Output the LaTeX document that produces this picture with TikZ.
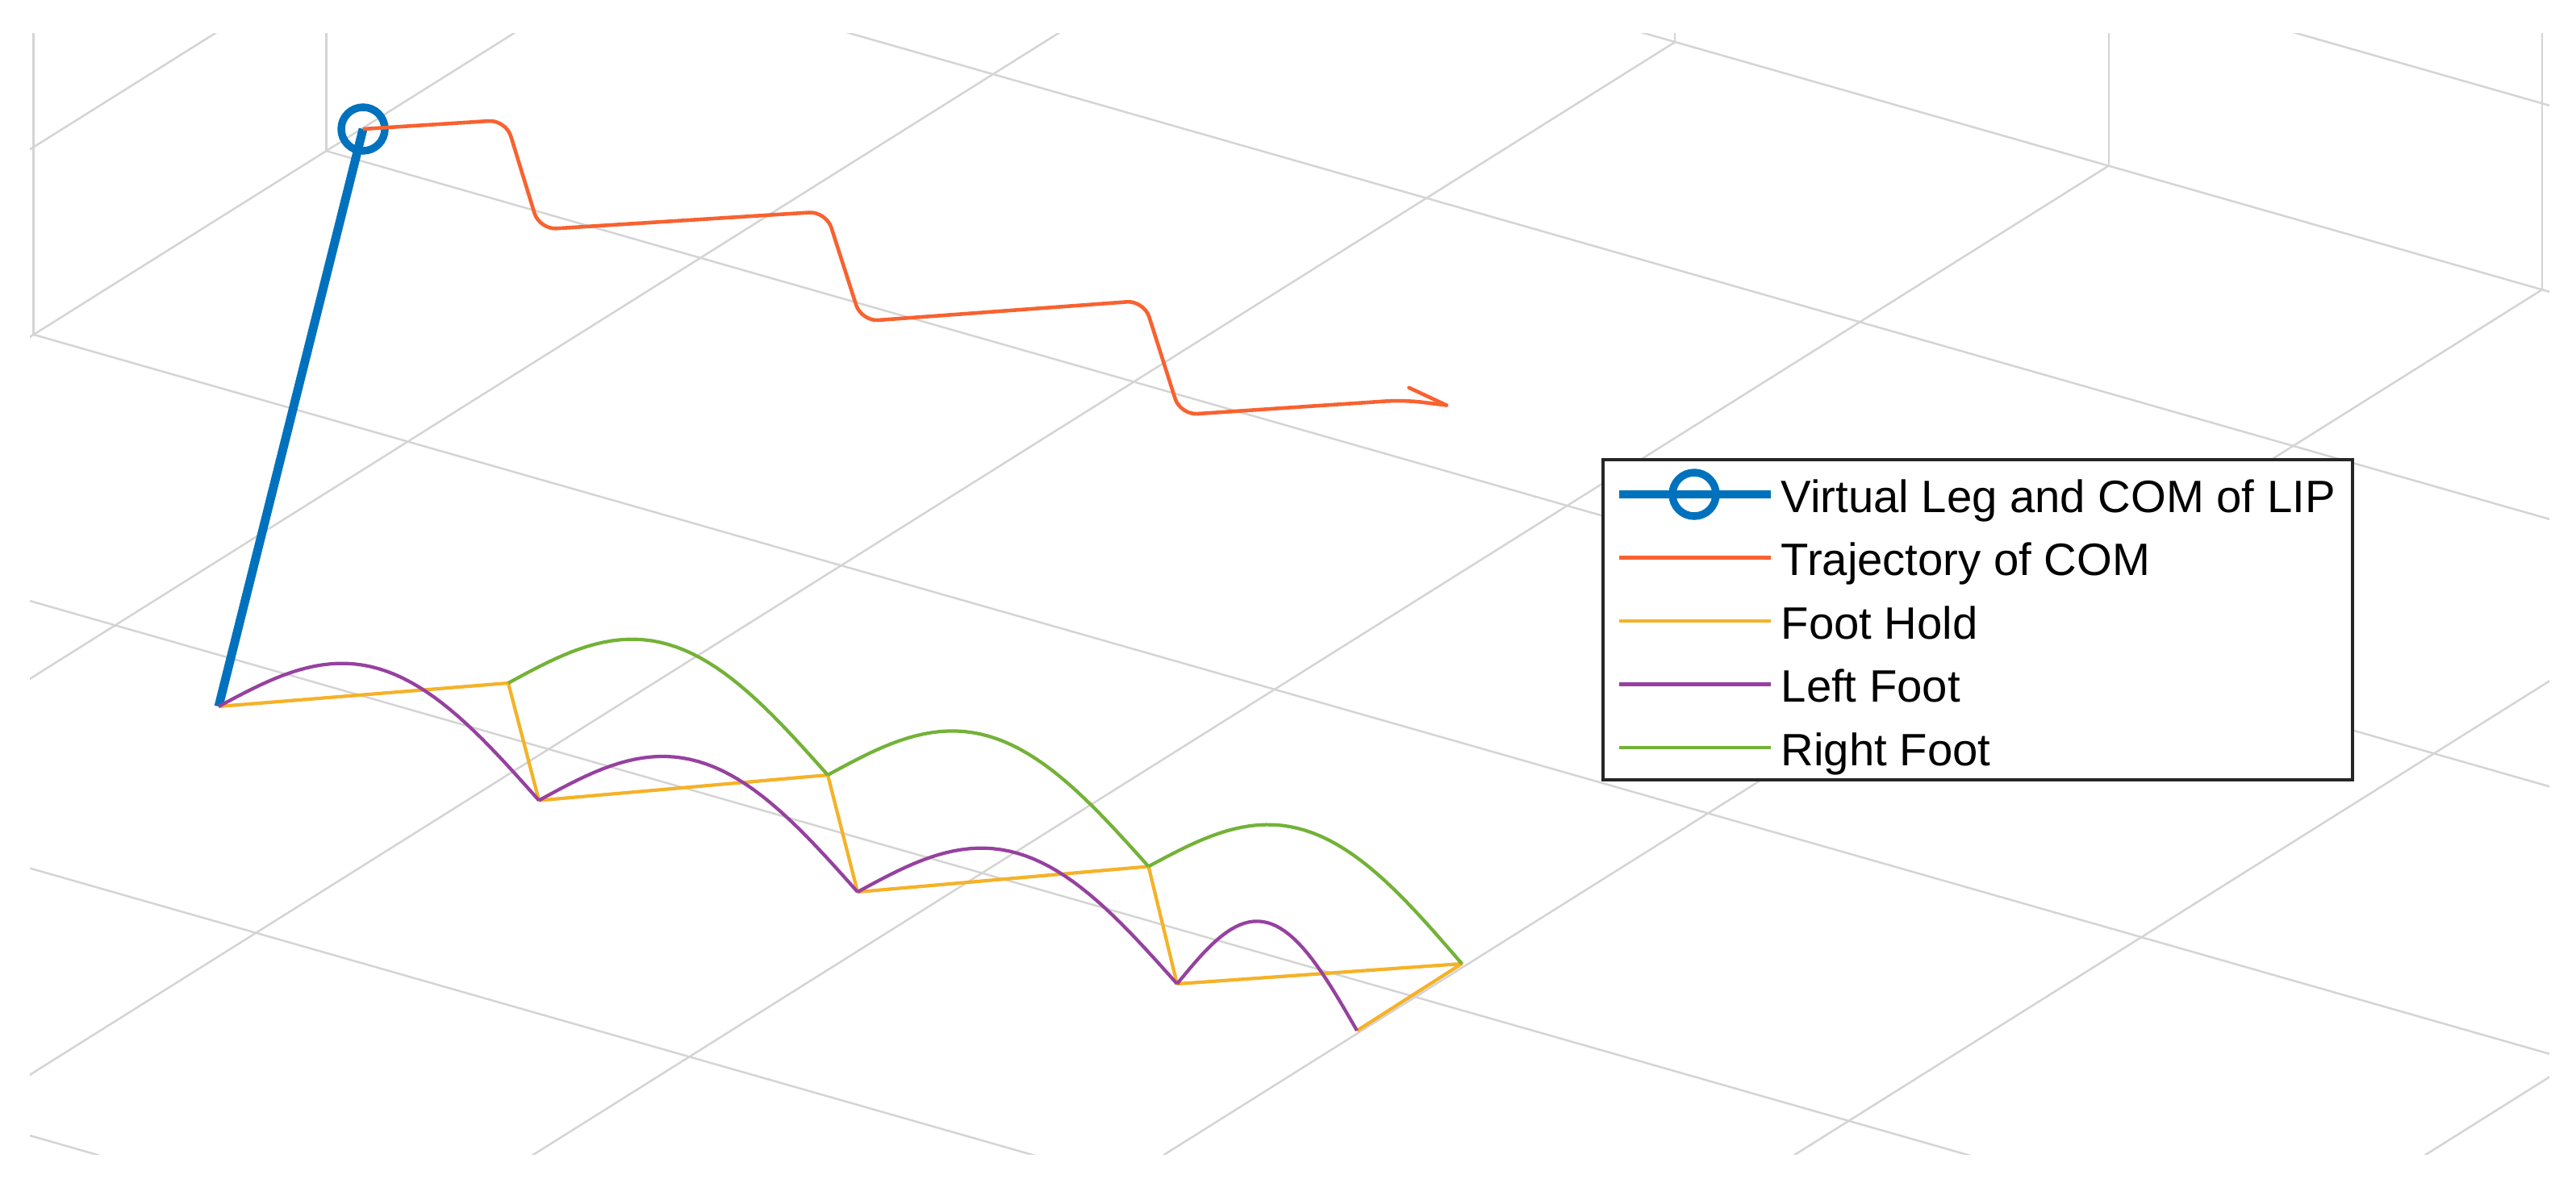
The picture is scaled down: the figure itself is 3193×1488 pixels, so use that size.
\documentclass[tikz,border=0pt]{standalone}
\usepackage{fontspec}
\setmainfont{Liberation Sans}
\usetikzlibrary{calc}
\definecolor{mblue}{RGB}{0,114,189}
\definecolor{morange}{RGB}{248,98,48}
\definecolor{myellow}{RGB}{245,178,40}
\definecolor{mpurple}{RGB}{150,65,160}
\definecolor{mgreen}{RGB}{115,178,55}
\definecolor{mgrid}{RGB}{212,212,212}
\begin{document}
\begin{tikzpicture}[x=0.01cm,y=-0.01cm,
  gridline/.style={draw=mgrid, line width=0.7pt},
  legline/.style={mblue, line width=3.1pt},
  marker/.style={mblue, line width=2.7pt},
  traj/.style={morange, line width=1.3pt, rounded corners=6pt, line join=round},
  hold/.style={myellow, line width=1.2pt, line join=round},
  lfoot/.style={mpurple, line width=1.2pt, line join=round},
  rfoot/.style={mgreen, line width=1.2pt, line join=round},
  legbox/.style={draw=black!85, fill=white, line width=1.1pt},
  legtext/.style={anchor=base west, inner sep=0pt, font=\fontsize{16pt}{19pt}\selectfont, text=black}]

\useasboundingbox (0,0) rectangle (3193,1488);
\fill[white] (0,0) rectangle (3193,1488);

% ---------------- grid ----------------
\begin{scope}
\clip (37,42) rectangle (3160,1431);
% floor lines parallel to back-right edge
\foreach \c/\xs in {-260/766, 71.5/404.3, 403/41.6, 734.5/-100, 1066/-100, 1397.5/-100}
  \draw[gridline] (\xs,{0.286*(\xs)+\c}) -- (3300,{0.286*3300+\c});
% floor lines parallel to back-left edge
\foreach \d/\xs in {865/1539, 1356/2076, 1847/2614, 2338/3151, 2829/3300, 3320/3300}
  \draw[gridline] (\xs,{-0.628*(\xs)+\d}) -- (-100,{62.8+\d});
% back edges of the floor
\coordinate (corner) at (1075.5,-234);
\draw[gridline] (-100,503.8) -- (corner) -- (3300,{0.286*3300-542});
% left wall
\draw[gridline] (41.6,0) -- (41.6,414.9);
\draw[gridline] (404.3,0) -- (404.3,187.1);
\draw[gridline] (-100,271.2) -- (1075.5,-466);
% right wall
\draw[gridline] (2076,0) -- (2076,51.3);
\draw[gridline] (2614,0) -- (2614,205.4);
\draw[gridline] (3151,0) -- (3151,359.2);
\draw[gridline] (1075.5,-465) -- (3300,{0.286*3300-773});
\end{scope}

% ---------------- data points ----------------
\coordinate (C)  at (450,160);
\coordinate (L1) at (271,876);
\coordinate (R1) at (630,847);
\coordinate (L2) at (668,992.5);
\coordinate (R2) at (1026,961);
\coordinate (L3) at (1063,1106);
\coordinate (R3) at (1423.6,1074.4);
\coordinate (L4) at (1459,1220);
\coordinate (R4) at (1812,1195);
\coordinate (L5) at (1682,1278);

\coordinate (T1) at (627,148.7);
\coordinate (B1) at (668.7,284.6);
\coordinate (T2) at (1024,262.2);
\coordinate (B2) at (1067.7,398.5);
\coordinate (T3) at (1418,372.8);
\coordinate (B3) at (1463,514.5);
\coordinate (E)  at (1740,496);
\coordinate (Tip) at (1793,502.5);
\coordinate (Barb) at (1746.4,480.7);

% virtual leg and COM
\draw[legline] (L1) -- (C);
\draw[marker] (C) circle[radius=7.68pt];

% COM trajectory
\draw[traj] (C) -- (T1) -- (B1) -- (T2) -- (B2) -- (T3) -- (B3) -- (E) -- (Tip);
\draw[morange, line width=1.3pt, line cap=round] (Tip) -- (Barb);

% foot holds
\draw[hold] (L1) -- (R1) -- (L2) -- (R2) -- (L3) -- (R3) -- (L4) -- (R4) -- (L5);

% left foot swings
\foreach \a/\b in {L1/L2, L2/L3, L3/L4, L4/L5}
  \draw[lfoot] let \p1=(\a), \p2=(\b) in
    plot[variable=\t, domain=0:1, samples=41]
    ({\x1+\t*(\x2-\x1)}, {\y1+\t*(\y2-\y1)+29.87pt*sin(180*\t)});
% right foot swings
\foreach \a/\b in {R1/R2, R2/R3, R3/R4}
  \draw[rfoot] let \p1=(\a), \p2=(\b) in
    plot[variable=\t, domain=0:1, samples=41]
    ({\x1+\t*(\x2-\x1)}, {\y1+\t*(\y2-\y1)+29.87pt*sin(180*\t)});

% ---------------- legend ----------------
\draw[legbox] (1987,570) rectangle (2916,967);
\coordinate (k1a) at (2007,613);   \coordinate (k1b) at (2195,613);
\coordinate (k2a) at (2007,691.5); \coordinate (k2b) at (2195,691.5);
\coordinate (k3a) at (2007,770);   \coordinate (k3b) at (2195,770);
\coordinate (k4a) at (2007,848.5); \coordinate (k4b) at (2195,848.5);
\coordinate (k5a) at (2007,927);   \coordinate (k5b) at (2195,927);
\coordinate (k1c) at (2100,613);
\draw[legline] (k1a) -- (k1b);
\draw[marker] (k1c) circle[radius=7.68pt];
\draw[morange, line width=1.3pt] (k2a) -- (k2b);
\draw[hold] (k3a) -- (k3b);
\draw[lfoot] (k4a) -- (k4b);
\draw[rfoot] (k5a) -- (k5b);
\node[legtext] (t1) at (2207,635)   {Virtual Leg and COM of LIP};
\node[legtext] (t2) at (2207,713.5) {Trajectory of COM};
\node[legtext] (t3) at (2207,792)   {Foot Hold};
\node[legtext] (t4) at (2207,870.5) {Left Foot};
\node[legtext] (t5) at (2207,949)   {Right Foot};
\end{tikzpicture}
\end{document}
